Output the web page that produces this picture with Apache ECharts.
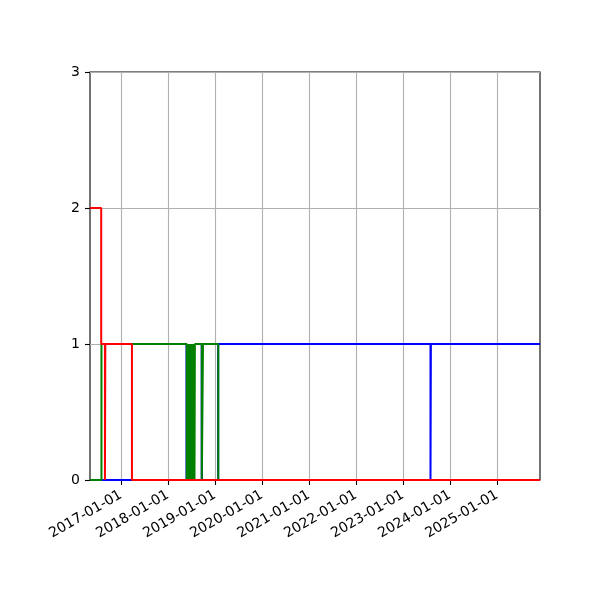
<!DOCTYPE html>
<html>
<head>
<meta charset="utf-8">
<script src="https://cdn.jsdelivr.net/npm/echarts@6/dist/echarts.min.js"></script>
<style>html,body{margin:0;padding:0;background:#fff}#c{width:600px;height:600px}</style>
</head>
<body>
<div id="c"></div>
<script>
const xStart = '2016-05-05';
const xEnd = '2025-12-01';
const xTickLabels = ['2017-01-01','2018-01-01','2019-01-01','2020-01-01','2021-01-01','2022-01-01','2023-01-01','2024-01-01','2025-01-01'];
const yTickLabels = [0, 1, 2, 3];

const blueSeries = [
  ['2016-05-05', 0],
  ['2018-05-25', 1], ['2018-05-27', 0],
  ['2018-09-20', 1], ['2018-09-22', 0],
  ['2019-01-26', 1],
  ['2023-08-03', 0], ['2023-08-06', 1],
  ['2025-12-01', 1]
];
const greenSeries = [
  ['2016-05-05', 0],
  ['2016-08-02', 1],
  ['2018-05-27', 0], ['2018-05-29', 1], ['2018-05-31', 0], ['2018-06-02', 1],
  ['2018-06-04', 0], ['2018-06-06', 1], ['2018-06-08', 0], ['2018-06-10', 1],
  ['2018-06-12', 0], ['2018-06-14', 1], ['2018-06-16', 0], ['2018-06-18', 1],
  ['2018-06-20', 0], ['2018-06-22', 1], ['2018-06-24', 0], ['2018-06-26', 1],
  ['2018-06-28', 0], ['2018-06-30', 1], ['2018-07-02', 0], ['2018-07-04', 1],
  ['2018-07-06', 0], ['2018-07-08', 1], ['2018-07-10', 0], ['2018-07-12', 1],
  ['2018-07-14', 0], ['2018-07-16', 1], ['2018-07-18', 0], ['2018-07-20', 1],
  ['2018-07-22', 0], ['2018-07-24', 1], ['2018-07-26', 0], ['2018-07-29', 1],
  ['2018-09-21', 0], ['2018-09-30', 1],
  ['2019-01-27', 0],
  ['2025-12-01', 0]
];
const redSeries = [
  ['2016-05-05', 2],
  ['2016-07-31', 1],
  ['2016-08-29', 0], ['2016-09-01', 1],
  ['2017-03-27', 0],
  ['2025-12-01', 0]
];

const ts = s => Date.UTC(+s.slice(0, 4), +s.slice(5, 7) - 1, +s.slice(8, 10));
const toPts = arr => arr.map(p => [ts(p[0]), p[1]]);
const tickVals = xTickLabels.map(ts);
const labelFor = v => {
  const i = tickVals.indexOf(v);
  return i >= 0 ? xTickLabels[i] : '';
};
const font = 'DejaVu Sans';
const chart = echarts.init(document.getElementById('c'));
const mk = (name, color, data) => ({
  name, type: 'line', step: 'end', data: toPts(data), showSymbol: false, symbol: 'none',
  lineStyle: {color, width: 2}, itemStyle: {color}, animation: false
});
chart.setOption({
  animation: false,
  grid: {left: 90, right: 60, top: 72, bottom: 120, show: true, borderColor: '#000', borderWidth: 1.1, backgroundColor: 'transparent'},
  xAxis: {
    type: 'value', min: ts(xStart), max: ts(xEnd), scale: true,
    axisLine: {show: false},
    axisTick: {show: true, customValues: tickVals, length: 5, lineStyle: {color: '#000', width: 1.1}},
    axisLabel: {customValues: tickVals, rotate: 30, margin: 14, color: '#000', fontFamily: font, fontSize: 14,
      formatter: v => labelFor(v)},
    splitLine: {show: true, lineStyle: {color: '#b0b0b0', width: 1.1}}
  },
  yAxis: {
    type: 'value', min: 0, max: 3, interval: 1,
    axisLine: {show: false},
    axisTick: {show: true, length: 5, lineStyle: {color: '#000', width: 1.1}},
    axisLabel: {color: '#000', fontFamily: font, fontSize: 14, margin: 10, formatter: v => String(yTickLabels[v] !== undefined ? yTickLabels[v] : v)},
    splitLine: {show: true, lineStyle: {color: '#b0b0b0', width: 1.1}}
  },
  series: [
    mk('blue', '#0000ff', blueSeries),
    mk('green', '#008000', greenSeries),
    mk('red', '#ff0000', redSeries)
  ]
});
</script>
</body>
</html>
